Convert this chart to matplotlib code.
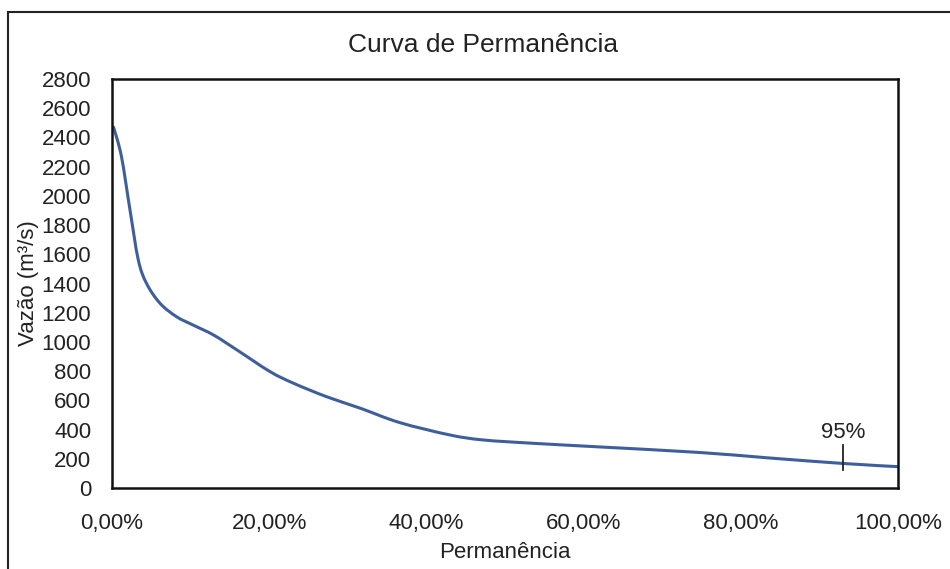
import matplotlib
matplotlib.use("Agg")
import matplotlib.pyplot as plt
from matplotlib.patches import Rectangle, PathPatch
from matplotlib.path import Path
from matplotlib.ticker import FuncFormatter

plt.rcParams['font.family'] = ['Liberation Sans', 'DejaVu Sans']

# Data
permanencia = [0.2, 1.2, 2.3, 3.35, 4.4, 6.1, 8.2, 10.3, 12.9, 15.9, 20.1, 23.1,
               27.3, 31.6, 36.6, 43.0, 47.2, 53.6, 62.1, 74.8, 83.3, 93.0, 100.0]
vazao = [2470, 2270, 1900, 1560, 1400, 1265, 1173, 1116, 1048, 945, 797, 717,
         625, 546, 448, 363, 329, 306, 281, 243, 207, 168, 146]
marker_x = 93.0
marker_label = "95%"
x_ticks = [0, 20, 40, 60, 80, 100]
y_ticks = list(range(0, 2801, 200))


def smooth_path(xs, ys, t=1/6):
    # Excel-like smoothed line: Catmull-Rom converted to cubic Bezier segments
    pts = list(zip(xs, ys))
    verts = [pts[0]]
    codes = [Path.MOVETO]
    n = len(pts)
    for i in range(n - 1):
        p0 = pts[i - 1] if i > 0 else pts[i]
        p1 = pts[i]
        p2 = pts[i + 1]
        p3 = pts[i + 2] if i + 2 < n else pts[i + 1]
        c1 = (p1[0] + (p2[0] - p0[0]) * t, p1[1] + (p2[1] - p0[1]) * t)
        c2 = (p2[0] - (p3[0] - p1[0]) * t, p2[1] - (p3[1] - p1[1]) * t)
        verts += [c1, c2, p2]
        codes += [Path.CURVE4] * 3
    return Path(verts, codes)


fig = plt.figure(figsize=(9.5, 5.69), dpi=100)
ax = fig.add_axes([112/950, 1 - 488/569, 786/950, 409/569])

ax.add_patch(PathPatch(smooth_path(permanencia, vazao), facecolor='none',
                       edgecolor='#3f5f9c', lw=2.2, capstyle='round', joinstyle='round'))

# 95% marker
ax.plot([marker_x, marker_x], [120, 295], color='#222222', lw=1.3)
ax.text(marker_x, 305, marker_label, ha='center', va='bottom', fontsize=16, color='#222222')

ax.set_xlim(0, 100)
ax.set_ylim(0, 2800)
ax.set_xticks(x_ticks)
ax.set_yticks(y_ticks)
ax.xaxis.set_major_formatter(FuncFormatter(lambda v, p: f"{v:.2f}%".replace('.', ',')))
ax.tick_params(axis='both', length=0, labelsize=16, colors='#222222')
ax.tick_params(axis='y', pad=15)
ax.tick_params(axis='x', pad=18)
for s in ax.spines.values():
    s.set_linewidth(1.8)
    s.set_color('#111111')

ax.set_xlabel("Permanência", fontsize=16, color='#222222', labelpad=6)
ax.set_ylabel("Vazão (m³/s)", fontsize=16, color='#222222', labelpad=2)
fig.text(483/950, 1 - 45/569, "Curva de Permanência", ha='center', va='center',
         fontsize=19, color='#222222')

fig.patches.append(Rectangle((8/950, -0.1), 1.2, 1.1 - 12/569, transform=fig.transFigure,
                             fill=False, lw=1.5, edgecolor='#222222'))

fig.savefig("out.png", dpi=100)
